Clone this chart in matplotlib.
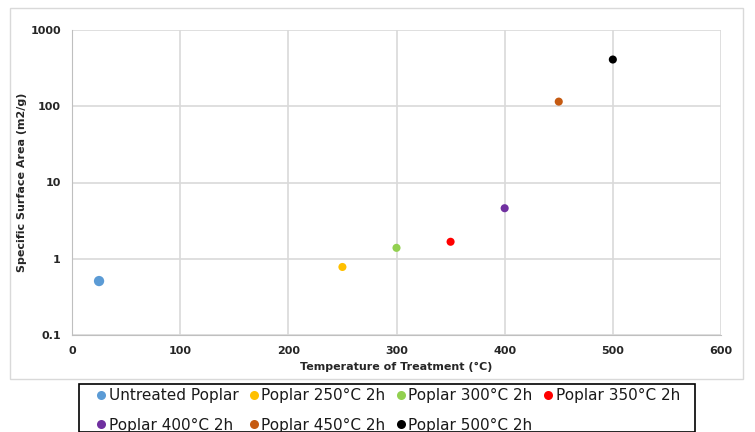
import matplotlib.pyplot as plt
from matplotlib.lines import Line2D
from matplotlib.patches import Rectangle
from matplotlib.ticker import FixedLocator, FuncFormatter, NullLocator

# dane
labels = ['Untreated Poplar', 'Poplar 250°C 2h', 'Poplar 300°C 2h', 'Poplar 350°C 2h',
          'Poplar 400°C 2h', 'Poplar 450°C 2h', 'Poplar 500°C 2h']
temperatures = [25, 250, 300, 350, 400, 450, 500]
surface_area = [0.51, 0.78, 1.39, 1.67, 4.6, 115, 410]
colors = ['#5B9BD5', '#FFC000', '#92D050', '#FF0000', '#7030A0', '#C55A11', '#000000']
sizes = [55, 34, 34, 34, 34, 34, 34]

W, H = 755, 432
fig = plt.figure(figsize=(W / 100, H / 100), dpi=100)

# ramka obszaru wykresu
fig.patches.append(Rectangle((10 / W, 1 - 379 / H), 733 / W, 371 / H, transform=fig.transFigure,
                             fill=False, edgecolor='#d9d9d9', linewidth=1))

ax = fig.add_axes([72 / W, 1 - 335 / H, 649 / W, 305 / H])
for t, v, c, s, lab in zip(temperatures, surface_area, colors, sizes, labels):
    ax.scatter(t, v, s=s, color=c, label=lab, zorder=3, edgecolors='none')

ax.set_yscale('log')
ax.set_xlim(0, 600)
ax.set_ylim(0.1, 1000)
ax.xaxis.set_major_locator(FixedLocator([0, 100, 200, 300, 400, 500, 600]))
ax.yaxis.set_major_locator(FixedLocator([0.1, 1, 10, 100, 1000]))
ax.yaxis.set_minor_locator(NullLocator())
ax.yaxis.set_major_formatter(FuncFormatter(lambda v, p: ('%g' % v)))
ax.grid(True, color='#d9d9d9', linewidth=1.2)
ax.set_axisbelow(True)
for side in ['top', 'right']:
    ax.spines[side].set_visible(False)
for side in ['left', 'bottom']:
    ax.spines[side].set_color('#bfbfbf')
ax.tick_params(length=0, labelsize=8, labelcolor='#262626', pad=8)
for lab in ax.get_xticklabels() + ax.get_yticklabels():
    lab.set_fontweight('bold')

ax.set_xlabel('Temperature of Treatment (°C)', fontsize=8, fontweight='bold', color='#262626', labelpad=4)
ax.set_ylabel('Specific Surface Area (m2/g)', fontsize=8, fontweight='bold', color='#262626', labelpad=2)

# legenda: 4 kolumny, kolejnosc wierszami
fig.patches.append(Rectangle((79 / W, 0), 616 / W, 48 / H, transform=fig.transFigure,
                             fill=False, edgecolor='black', linewidth=1.2))
handles = [Line2D([], [], linestyle='none', marker='o', markersize=6.5, color=c,
                  markeredgewidth=0) for c in colors]
order = [0, 4, 1, 5, 2, 6, 3]
leg = fig.legend([handles[i] for i in order], [labels[i] for i in order], ncol=4,
                 loc='upper left', bbox_to_anchor=(96.5 / W, 1 - 388 / H), frameon=False,
                 fontsize=11, handletextpad=0.2, columnspacing=0.7, handlelength=0.6,
                 borderpad=0, borderaxespad=0, labelspacing=0.95)
for t in leg.get_texts():
    t.set_color('#1a1a1a')

fig.savefig('out.png', dpi=100)
